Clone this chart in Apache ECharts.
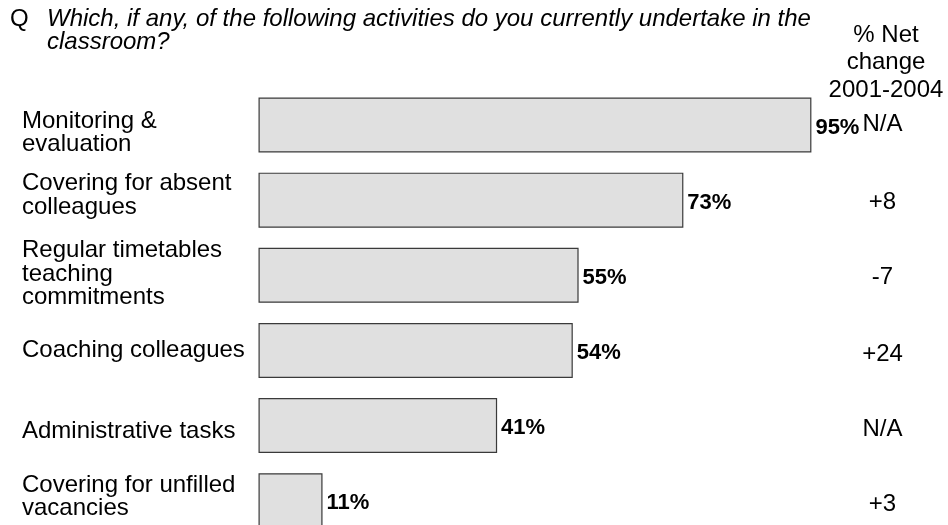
<!DOCTYPE html>
<html>
<head>
<meta charset="utf-8">
<script src="https://cdn.jsdelivr.net/npm/echarts@6/dist/echarts.min.js"></script>
<style>
  html, body { margin: 0; padding: 0; background: #fff; }
  #chart { width: 948px; height: 525px; }
</style>
</head>
<body>
<div id="chart"></div>
<script>
// Classroom activities, share of respondents (%)
const categories = [
  'Monitoring &\nevaluation',
  'Covering for absent\ncolleagues',
  'Regular timetables\nteaching\ncommitments',
  'Coaching colleagues',
  'Administrative tasks',
  'Covering for unfilled\nvacancies'
];
const shares = [95, 73, 55, 54, 41, 11];
// % net change 2001-2004
const netChange = ['N/A', '+8', '-7', '+24', 'N/A', '+3'];

const questionText = 'Which, if any, of the following activities do you currently undertake in the\nclassroom?';
const columnHeader = '% Net\nchange\n2001-2004';

// vertical nudges (px) of the side texts relative to each bar's centre, positive = down
const categoryShift = [8, -5, -1, 0, 6, -4];
const netChangeShift = [-1, 2.5, 2.5, 3.5, 4, 4];

const FONT = "'Liberation Sans', Arial, Helvetica, sans-serif";

const chart = echarts.init(document.getElementById('chart'), null, { renderer: 'canvas' });

chart.setOption({
  animation: false,
  backgroundColor: '#ffffff',
  title: [
    {
      text: 'Q',
      left: 10, top: 8, padding: 0,
      textStyle: { fontFamily: FONT, fontSize: 24, fontWeight: 'normal', color: '#000', lineHeight: 23 }
    },
    {
      text: questionText,
      left: 47, top: 8, padding: 0,
      textStyle: { fontFamily: FONT, fontSize: 24, fontStyle: 'italic', fontWeight: 'normal', color: '#000', lineHeight: 23 }
    },
    {
      text: columnHeader,
      left: 886, top: 21, padding: 0, textAlign: 'center',
      textStyle: { fontFamily: FONT, fontSize: 24, fontWeight: 'normal', color: '#000', lineHeight: 27.8, align: 'center' }
    }
  ],
  grid: { left: 258.5, top: 87.4, width: 582, height: 450.9, containLabel: false, outerBoundsMode: 'none' },
  xAxis: {
    type: 'value', min: 0, max: 100,
    show: false
  },
  yAxis: {
    type: 'category',
    inverse: true,
    data: categories,
    axisLine: { show: false },
    axisTick: { show: false },
    splitLine: { show: false },
    axisLabel: { show: false }
  },
  series: [
    {
      type: 'bar',
      data: shares,
      barWidth: 55,
      itemStyle: { color: '#e0e0e0', borderColor: '#3a3a3a', borderWidth: 1.2 },
      label: {
        show: true,
        position: 'right',
        distance: 4,
        offset: [0, 2.5],
        formatter: '{c}%',
        fontFamily: FONT,
        fontSize: 22,
        fontWeight: 'bold',
        color: '#000'
      }
    }
  ]
});

// Row texts: activity names on the left, net change on the right,
// each placed on its bar's row through the category axis.
const rowTexts = [];
categories.forEach((name, i) => {
  const yc = chart.convertToPixel({ yAxisIndex: 0 }, i);
  rowTexts.push({
    type: 'text',
    silent: true,
    style: {
      text: name,
      x: 22,
      y: yc + categoryShift[i],
      align: 'left',
      verticalAlign: 'middle',
      fontFamily: FONT,
      fontSize: 24,
      lineHeight: 23.5,
      fill: '#000'
    }
  });
  rowTexts.push({
    type: 'text',
    silent: true,
    style: {
      text: netChange[i],
      x: 882.5,
      y: yc + netChangeShift[i],
      align: 'center',
      verticalAlign: 'middle',
      fontFamily: FONT,
      fontSize: 24,
      fill: '#000'
    }
  });
});
chart.setOption({ graphic: { elements: rowTexts } });
</script>
</body>
</html>
